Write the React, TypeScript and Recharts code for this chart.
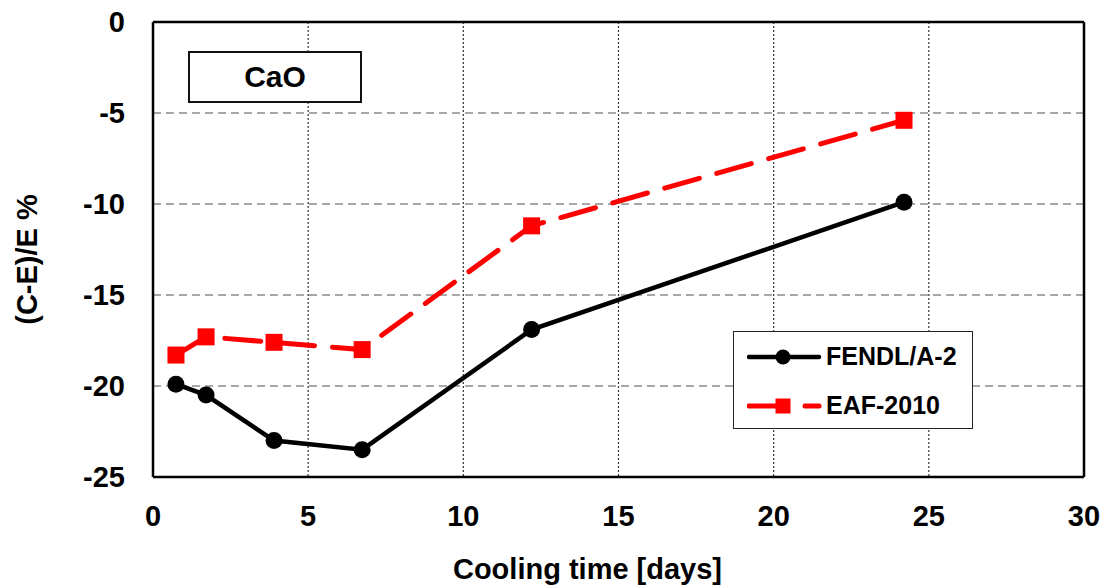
import React from 'react';
import {
  LineChart, Line, XAxis, YAxis, CartesianGrid, ReferenceLine, Legend, Label
} from 'recharts';

// cooling time [days] and (C-E)/E %
const coolingDays = [0.74, 1.71, 3.9, 6.74, 12.2, 24.2];
const fendl = [-19.9, -20.5, -23.0, -23.5, -16.9, -9.9];
const eaf = [-18.3, -17.3, -17.6, -18.0, -11.2, -5.4];
const xTicks = [0, 5, 10, 15, 20, 25, 30];
const yTicks = [-25, -20, -15, -10, -5, 0];

const data = coolingDays.map((t, i) => ({ t, fendl: fendl[i], eaf: eaf[i] }));

const FONT = '"Liberation Sans", Arial, sans-serif';

const SquareDot = (props: any) => {
  const { cx, cy, index } = props;
  if (cx == null || cy == null) return null;
  return <rect key={`sq-${index}`} x={cx - 8.5} y={cy - 8.5} width={17} height={17} fill="#ff0000" />;
};

const LegendBox = () => (
  <div style={{
    width: 240, height: 98, boxSizing: 'border-box', border: '1.5px solid #222',
    background: '#fff', fontFamily: FONT, fontWeight: 700, fontSize: 25, color: '#000',
  }}>
    <div style={{ display: 'flex', alignItems: 'center', height: 49, paddingLeft: 13 }}>
      <svg width={78} height={20}>
        <line x1={2} y1={10} x2={72} y2={10} stroke="#000" strokeWidth={4.5} strokeLinecap="round" />
        <circle cx={36} cy={10} r={7.5} fill="#000" />
      </svg>
      <span style={{ marginLeft: 1 }}>FENDL/A-2</span>
    </div>
    <div style={{ display: 'flex', alignItems: 'center', height: 49, paddingLeft: 13 }}>
      <svg width={78} height={20}>
        <line x1={2} y1={10} x2={30} y2={10} stroke="#ff0000" strokeWidth={5} strokeLinecap="round" />
        <line x1={58} y1={10} x2={72} y2={10} stroke="#ff0000" strokeWidth={5} strokeLinecap="round" />
        <rect x={28.5} y={2.5} width={15} height={15} fill="#ff0000" />
      </svg>
      <span style={{ marginLeft: 1 }}>EAF-2010</span>
    </div>
  </div>
);

export default function App() {
  const tickStyle = { fill: '#000', fontSize: 29, fontWeight: 700, fontFamily: FONT };
  return (
    <div style={{ position: 'absolute', left: 0, top: 0, width: 1108, height: 588, background: '#fff' }}>
      <LineChart width={1108} height={588} data={data} margin={{ top: 22, right: 24, left: 0, bottom: 0 }}>
        <CartesianGrid horizontal vertical={false} stroke="#8c8c8c" strokeWidth={1.5} strokeDasharray="8 5" />
        <CartesianGrid horizontal={false} vertical stroke="#333" strokeWidth={1.2} strokeDasharray="2 2" />
        <XAxis
          dataKey="t" type="number" domain={[0, 30]} ticks={xTicks} interval={0}
          height={111} tickSize={0} tickMargin={28} tick={tickStyle}
          axisLine={{ stroke: '#000', strokeWidth: 2.5 }}
        >
          <Label
            content={({ viewBox }: any) => {
              const x = viewBox.x + viewBox.width / 2 - 31;
              const y = viewBox.y + viewBox.height - 9;
              return (
                <text x={x} y={y} textAnchor="middle" fill="#000" fontSize={29}
                  fontWeight={700} fontFamily={FONT}>
                  Cooling time [days]
                </text>
              );
            }}
          />
        </XAxis>
        <YAxis
          type="number" domain={[-25, 0]} ticks={yTicks} interval={0}
          width={153} tickSize={0} tickMargin={28} tick={tickStyle}
          axisLine={{ stroke: '#000', strokeWidth: 2.5 }}
        >
          <Label
            content={({ viewBox }: any) => {
              const x = viewBox.x + 27;
              const y = viewBox.y + viewBox.height / 2 + 10;
              return (
                <text x={x} y={y} transform={`rotate(-90, ${x}, ${y})`} textAnchor="middle"
                  dominantBaseline="central" fill="#000" fontSize={29} fontWeight={700} fontFamily={FONT}>
                  (C-E)/E %
                </text>
              );
            }}
          />
        </YAxis>
        <ReferenceLine y={0} stroke="#000" strokeWidth={2.5} />
        <ReferenceLine x={30} stroke="#000" strokeWidth={2.5} />
        <Legend
          layout="horizontal" verticalAlign="middle" align="center"
          content={() => <LegendBox />}
          wrapperStyle={{ position: 'absolute', left: 733, top: 331, width: 240, height: 98 }}
        />
        <Line
          dataKey="fendl" name="FENDL/A-2" stroke="#000" strokeWidth={4.5}
          dot={{ r: 8.5, fill: '#000', stroke: 'none' }} isAnimationActive={false}
        />
        <Line
          dataKey="eaf" name="EAF-2010" stroke="#ff0000" strokeWidth={5}
          strokeDasharray="36 18" strokeLinecap="round"
          dot={<SquareDot />} isAnimationActive={false}
        />
      </LineChart>
      <div style={{
        position: 'absolute', left: 188, top: 51, width: 174, height: 52, boxSizing: 'border-box',
        border: '2px solid #111', background: '#fff', display: 'flex', alignItems: 'center',
        justifyContent: 'center', fontFamily: FONT, fontWeight: 700, fontSize: 30, color: '#000',
      }}>
        CaO
      </div>
    </div>
  );
}
